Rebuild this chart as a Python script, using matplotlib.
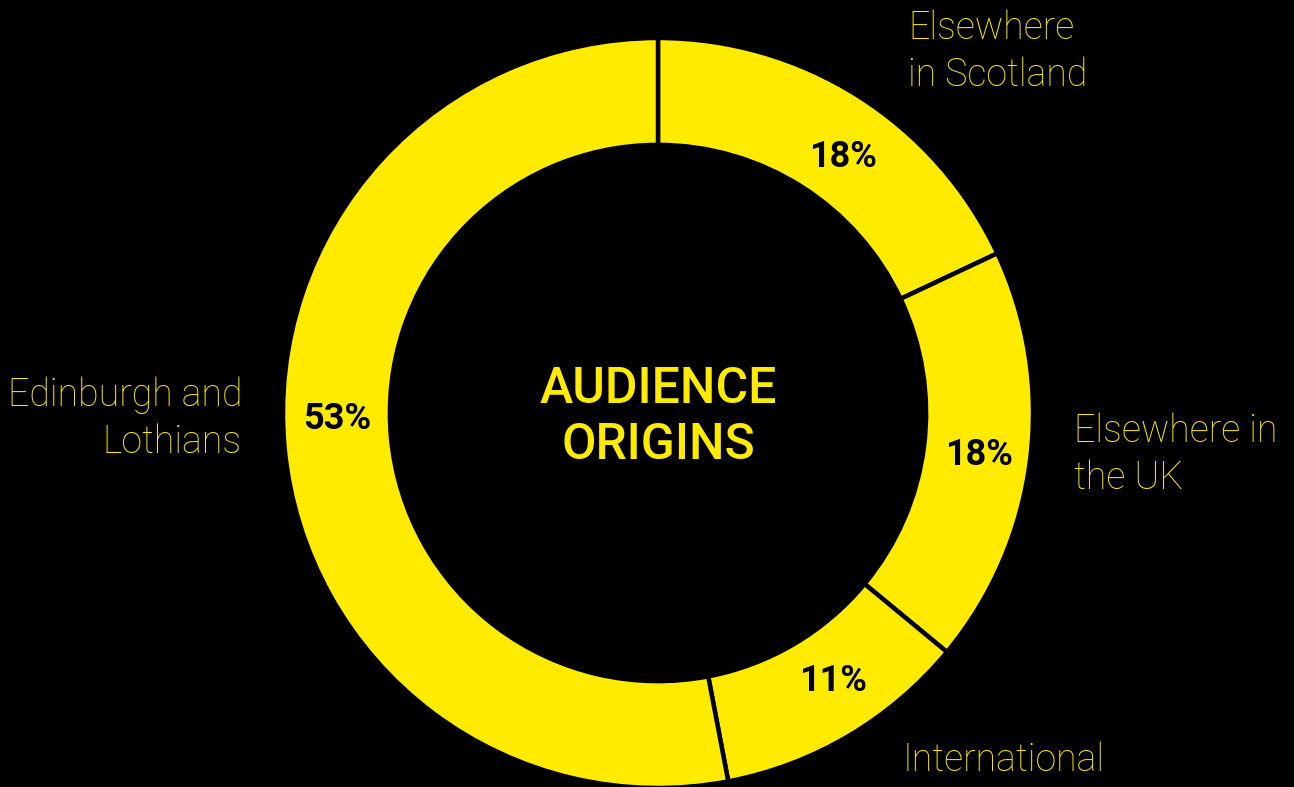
import matplotlib
matplotlib.use("Agg")
import matplotlib.pyplot as plt

plt.rcParams['font.family'] = ['Roboto', 'DejaVu Sans']

categories = ["Elsewhere\nin Scotland", "Elsewhere in\nthe UK", "International", "Edinburgh and\nLothians"]
shares = [18, 18, 11, 53]
pct_labels = ["18%", "18%", "11%", "53%"]

YELLOW = "#FFEB00"
W, H = 1294, 787
CX, CY, R = 658, 413, 375  # pixel centre and outer radius

fig = plt.figure(figsize=(W / 100, H / 100), dpi=100, facecolor="black")
ax = fig.add_axes([0, 0, 1, 1])
ax.set_facecolor("black")

ring = 0.285
ax.pie(shares, startangle=90, counterclock=False, radius=1.0,
       colors=[YELLOW] * len(shares),
       wedgeprops=dict(width=ring, edgecolor="black", linewidth=3.2))

ax.set_xlim(-CX / R, (W - CX) / R)
ax.set_ylim(-(H - CY) / R, CY / R)
ax.set_aspect("equal")
ax.axis("off")


def px(x, y):
    return (x - CX) / R, (CY - y) / R


# percentage labels inside the ring
pct_pos = [(843, 157), (979, 455), (833, 681), (337, 419)]
for lab, (x, y) in zip(pct_labels, pct_pos):
    ax.text(*px(x, y), lab, ha="center", va="center", fontsize=26,
            fontweight="bold", color="black")

# category labels outside the ring
label_kw = dict(va="center", fontsize=27, fontweight="light", color=YELLOW,
                linespacing=1.33)
ax.text(*px(908, 52), categories[0], ha="left", **label_kw)
ax.text(*px(1074, 455), categories[1], ha="left", **label_kw)
ax.text(*px(903, 760), categories[2], ha="left", **label_kw)
ax.text(*px(242, 419), categories[3], ha="right", **label_kw)

# centre title
ax.text(*px(658, 417), "AUDIENCE\nORIGINS", ha="center", va="center",
        fontsize=36, fontweight="medium", color=YELLOW, linespacing=1.22)

fig.savefig("out.png", dpi=100, facecolor="black")
